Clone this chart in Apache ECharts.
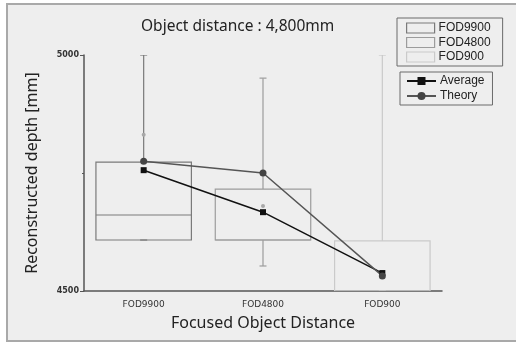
<!DOCTYPE html>
<html>
<head>
<meta charset="utf-8">
<script src="https://cdn.jsdelivr.net/npm/echarts@6/dist/echarts.min.js"></script>
<style>
html,body{margin:0;padding:0;background:#fff;}
#chart{width:516px;height:343px;}
</style>
</head>
<body>
<div id="chart"></div>
<script>
const categories = ['FOD9900', 'FOD4800', 'FOD900'];
const boxMin = [4608, 4553, 4500];
const boxQ1 = [4608, 4608, 4500];
const boxMedian = [4661, 4608, 4500];
const boxQ3 = [4773, 4716, 4606];
const boxMax = [5000, 4951, 5000];
const meanDot = [4831, 4680, null];
const average = [4756, 4667, 4538];
const theory = [4775, 4750, 4532];
const yTicks = [4500, 5000];

const boxColors = ['#7a7a7a', '#9c9c9c', '#cacaca'];

function renderBox(params, api) {
  const x = api.value(0);
  const pMin = api.coord([x, api.value(1)]);
  const pQ1 = api.coord([x, api.value(2)]);
  const pMed = api.coord([x, api.value(3)]);
  const pQ3 = api.coord([x, api.value(4)]);
  const pMax = api.coord([x, api.value(5)]);
  const dotVal = api.value(6);
  const bw = api.size([1, 0])[0] * 0.8;
  const cx = pMed[0];
  const color = boxColors[x];
  const st = {stroke: color, lineWidth: 1.2, fill: null};
  const children = [
    {type: 'line', shape: {x1: cx, y1: pQ3[1], x2: cx, y2: pMax[1]}, style: st},
    {type: 'line', shape: {x1: cx, y1: pQ1[1], x2: cx, y2: pMin[1]}, style: st},
    {type: 'line', shape: {x1: cx - 3.5, y1: pMax[1], x2: cx + 3.5, y2: pMax[1]}, style: st},
    {type: 'line', shape: {x1: cx - 3.5, y1: pMin[1], x2: cx + 3.5, y2: pMin[1]}, style: st},
    {type: 'rect', shape: {x: cx - bw / 2, y: pQ3[1], width: bw, height: pQ1[1] - pQ3[1]}, style: {stroke: color, lineWidth: 1.2, fill: 'rgba(0,0,0,0)'}},
    {type: 'line', shape: {x1: cx - bw / 2, y1: pMed[1], x2: cx + bw / 2, y2: pMed[1]}, style: st}
  ];
  if (dotVal != null && !isNaN(dotVal)) {
    const pd = api.coord([x, dotVal]);
    children.push({type: 'circle', shape: {cx: cx, cy: pd[1], r: 2}, style: {fill: '#a8a8a8', stroke: null}});
  }
  return {type: 'group', children: children};
}

const boxSeries = categories.map((c, i) => ({
  name: c,
  type: 'custom',
  renderItem: renderBox,
  clip: true,
  z: 1,
  itemStyle: {color: boxColors[i]},
  data: [[i, boxMin[i], boxQ1[i], boxMedian[i], boxQ3[i], boxMax[i], meanDot[i] == null ? NaN : meanDot[i]]]
}));

const chart = echarts.init(document.getElementById('chart'), null, {renderer: 'canvas'});
chart.setOption({
  backgroundColor: '#ffffff',
  animation: false,
  graphic: [{
    type: 'rect', z: -10, silent: true,
    shape: {x: 7, y: 4, width: 520, height: 337},
    style: {fill: '#eeeeee', stroke: '#a9a9a9', lineWidth: 2}
  }],
  title: {
    text: 'Object distance : 4,800mm',
    left: 141, top: 19, padding: 0,
    textStyle: {fontFamily: 'Noto Sans', fontSize: 15.5, fontWeight: 'normal', color: '#222'}
  },
  grid: {left: 84, right: 74, top: 55, bottom: 52, containLabel: false},
  legend: [{
    orient: 'vertical', left: 397, top: 18,
    padding: [4, 12, 3, 9],
    borderColor: '#6a6a6a', borderWidth: 1,
    itemWidth: 28, itemHeight: 10, itemGap: 2.5,
    textStyle: {fontFamily: 'Liberation Sans', fontSize: 12, color: '#222', padding: [0, 0, 0, -1]},
    data: categories.map((c, i) => ({name: c, icon: 'rect', itemStyle: {color: 'rgba(0,0,0,0)', borderColor: boxColors[i], borderWidth: 1.2}}))
  }, {
    orient: 'vertical', left: 400, top: 72,
    padding: [3, 8, 3, 6],
    borderColor: '#6a6a6a', borderWidth: 1,
    itemWidth: 29, itemHeight: 10, itemGap: 3,
    textStyle: {fontFamily: 'Liberation Sans', fontSize: 12, color: '#222', padding: [0, 0, 0, -1]},
    data: ['Average', 'Theory']
  }],
  xAxis: {
    type: 'category',
    data: categories,
    boundaryGap: true,
    name: 'Focused Object Distance',
    nameLocation: 'middle',
    nameGap: 24,
    nameTextStyle: {fontFamily: 'Noto Sans', fontSize: 16, color: '#222'},
    axisLine: {lineStyle: {color: '#555', width: 1.5}},
    axisTick: {alignWithLabel: true, length: 3, lineStyle: {color: '#555'}},
    axisLabel: {fontFamily: 'DejaVu Sans', fontSize: 9, color: '#333', margin: 9},
    splitLine: {show: false}
  },
  yAxis: {
    type: 'value',
    min: yTicks[0], max: yTicks[1], interval: 500,
    name: 'Reconstructed depth [mm]',
    nameLocation: 'middle',
    nameGap: 44,
    nameTextStyle: {fontFamily: 'Noto Sans', fontSize: 16, color: '#222'},
    axisLine: {show: true, lineStyle: {color: '#555', width: 1.5}},
    axisTick: {show: true, inside: false, length: 4, lineStyle: {color: '#555'}},
    minorTick: {show: true, splitNumber: 2, length: 2, lineStyle: {color: '#555'}},
    axisLabel: {fontFamily: 'DejaVu Sans', fontSize: 8, fontWeight: 'bold', color: '#333', margin: 5, formatter: v => String(v)},
    splitLine: {show: false}
  },
  series: boxSeries.concat([{
    name: 'Average',
    type: 'line',
    data: average,
    z: 3,
    symbol: 'rect', symbolSize: 6,
    itemStyle: {color: '#111'},
    lineStyle: {color: '#111', width: 1.5}
  }, {
    name: 'Theory',
    type: 'line',
    data: theory,
    z: 3,
    symbol: 'circle', symbolSize: 7,
    itemStyle: {color: '#444'},
    lineStyle: {color: '#555', width: 1.5}
  }])
});
</script>
</body>
</html>
